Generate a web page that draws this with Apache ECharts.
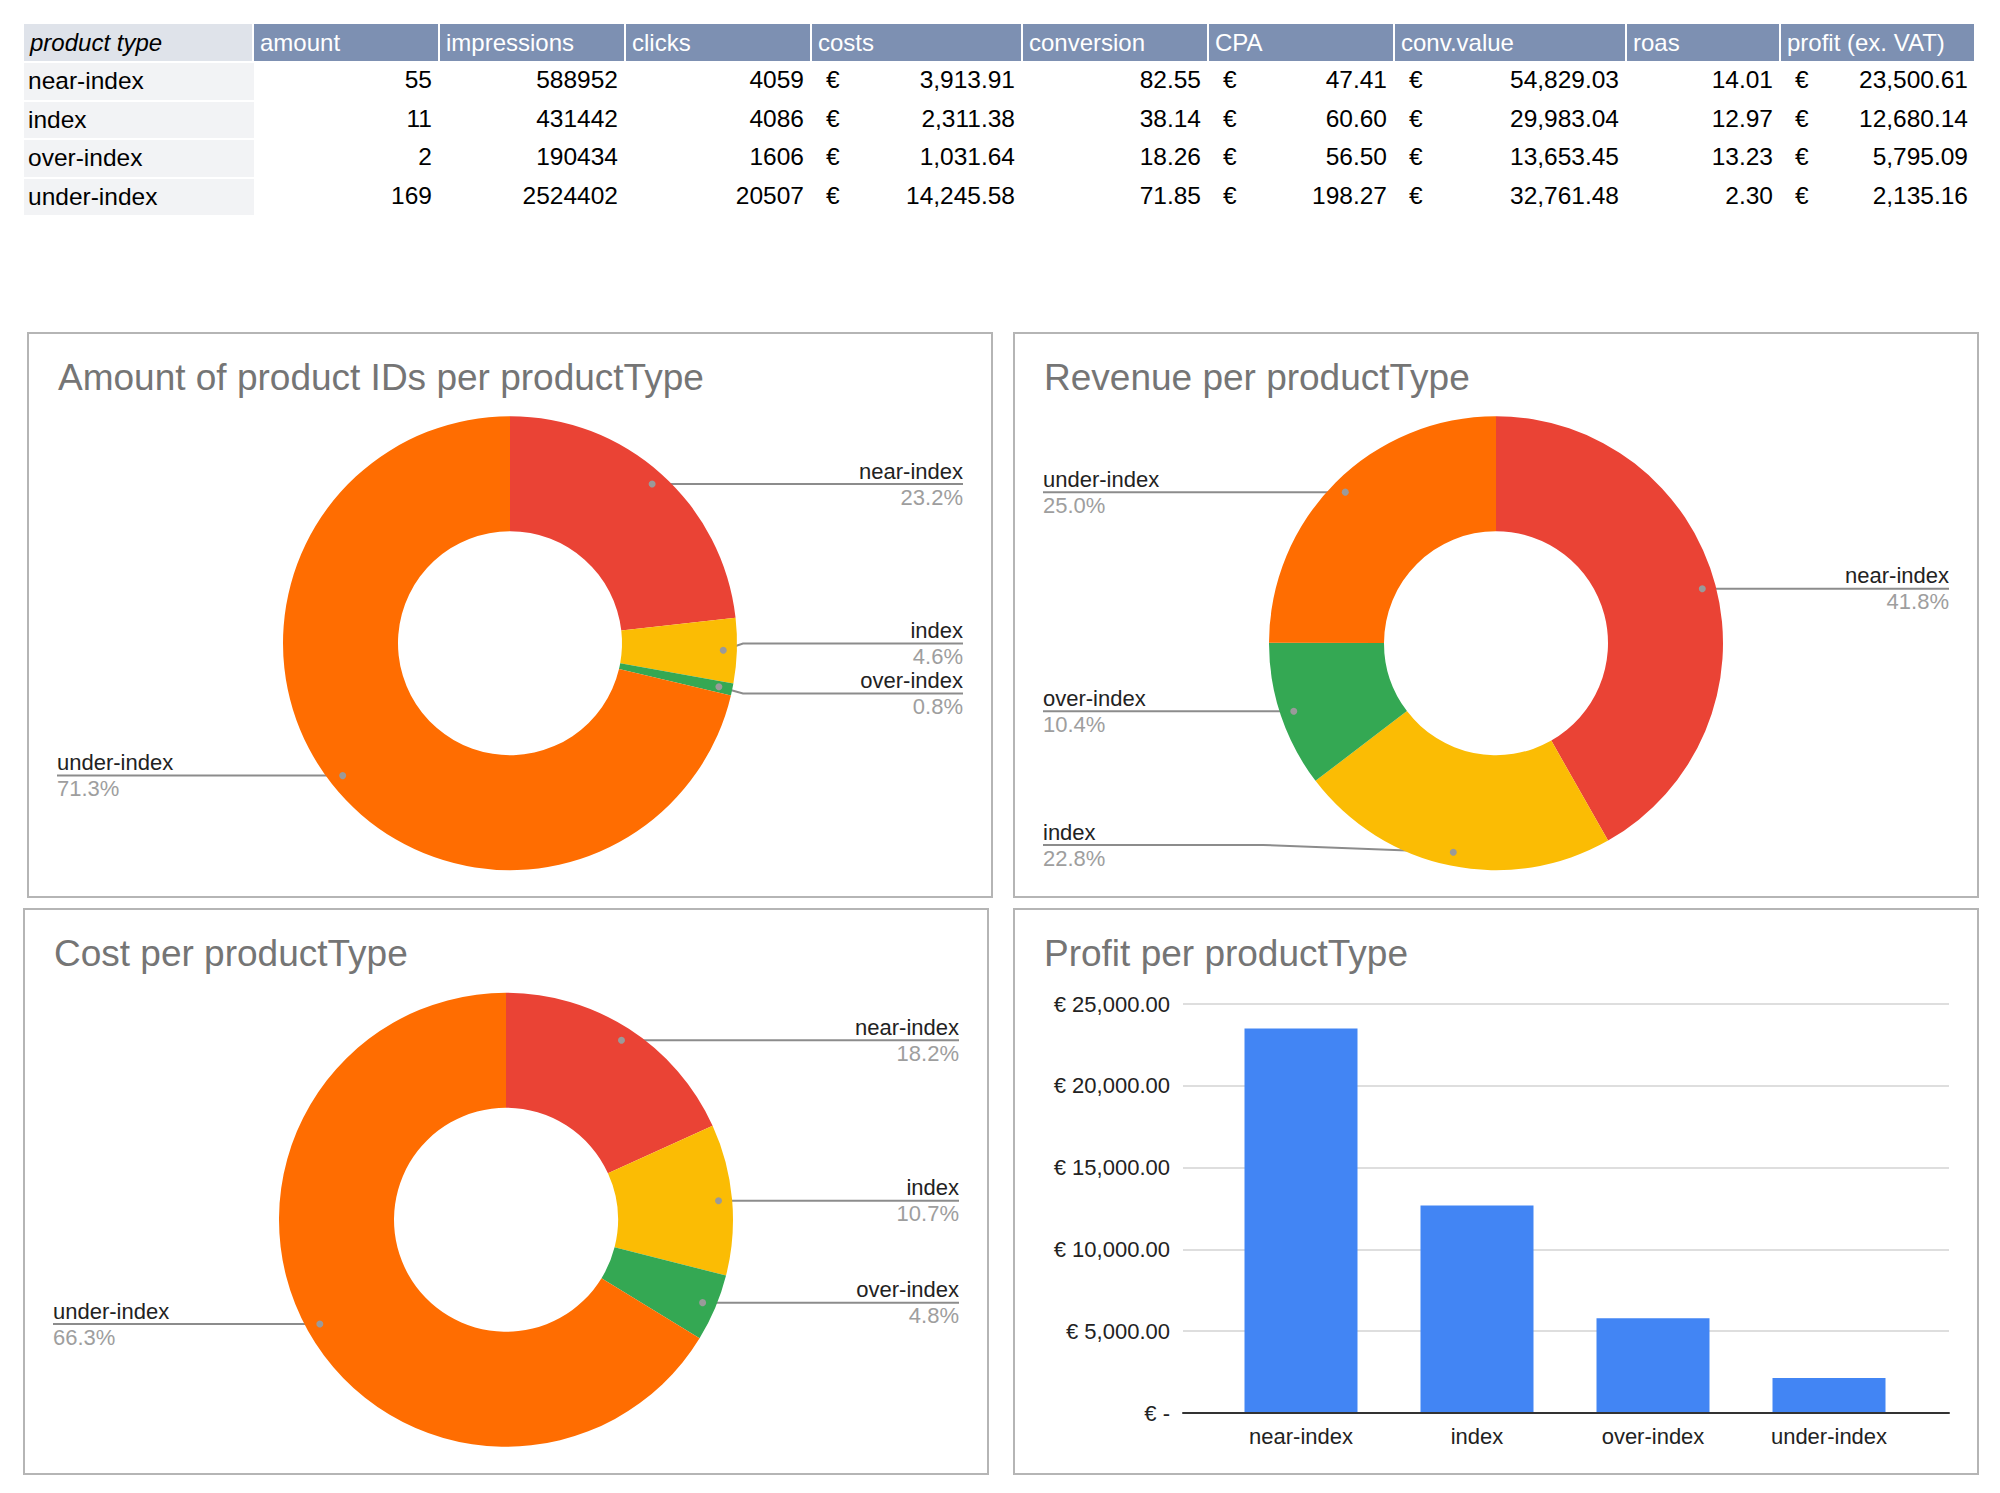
<!DOCTYPE html>
<html>
<head>
    <meta charset="utf-8" />
    <title>productType dashboard</title>
    <script src="https://cdn.jsdelivr.net/npm/echarts@6/dist/echarts.min.js"></script>
    <style>
        html, body { margin: 0; padding: 0; background: #fff; }
        #main { position: absolute; left: 0; top: 0; width: 2000px; height: 1493px; }
        #tbl { position: absolute; left: 24px; top: 24px; z-index: 2;
               border-collapse: separate; border-spacing: 0; table-layout: fixed;
               font-family: "Liberation Sans", Arial, sans-serif; font-size: 24.5px; color: #000; }
        #tbl tr.h { height: 37px; }
        #tbl tr.b { height: 38.5px; }
        #tbl th { padding: 0 6px; text-align: left; font-weight: normal; font-size: 24px;
                  background: #7d90b2; color: #fff; border-right: 2px solid #fff; white-space: nowrap; }
        #tbl th.first { background: #dfe3ea; color: #000; font-style: italic; }
        #tbl td { padding: 0 8px; text-align: right; white-space: nowrap; }
        #tbl td.first { text-align: left; background: #f2f3f5; border-top: 2px solid #fff; padding-left: 4px; }
        #tbl td.eur span.sym { float: left; padding-left: 6px; }
    </style>
</head>
<body>
    <div id="main"></div>
    <table id="tbl"></table>
    <script type="text/javascript">
        // data from the sheet
        var productTypes = ['near-index', 'index', 'over-index', 'under-index'];
        var amount = [55, 11, 2, 169];
        var impressions = [588952, 431442, 190434, 2524402];
        var clicks = [4059, 4086, 1606, 20507];
        var costs = [3913.91, 2311.38, 1031.64, 14245.58];
        var conversion = [82.55, 38.14, 18.26, 71.85];
        var cpa = [47.41, 60.60, 56.50, 198.27];
        var convValue = [54829.03, 29983.04, 13653.45, 32761.48];
        var roas = [14.01, 12.97, 13.23, 2.30];
        var profit = [23500.61, 12680.14, 5795.09, 2135.16];
        var tableHeaders = ['product type', 'amount', 'impressions', 'clicks', 'costs', 'conversion', 'CPA', 'conv.value', 'roas', 'profit (ex. VAT)'];
        var profitTicks = { min: 0, max: 25000, interval: 5000 };

        var typeColors = ['#ea4335', '#fbbc04', '#34a853', '#ff6d01'];
        var font = '"Liberation Sans", Arial, sans-serif';

        function money(v) {
            return v.toLocaleString('en-US', { minimumFractionDigits: 2, maximumFractionDigits: 2 });
        }

        // ---- table ----
        function buildTable() {
            var widths = [230, 186, 186, 186, 211, 186, 186, 232, 154, 195];
            var cols = [
                { vals: amount, fmt: function (v) { return String(v); } },
                { vals: impressions, fmt: function (v) { return String(v); } },
                { vals: clicks, fmt: function (v) { return String(v); } },
                { vals: costs, fmt: money, eur: true },
                { vals: conversion, fmt: function (v) { return v.toFixed(2); } },
                { vals: cpa, fmt: money, eur: true },
                { vals: convValue, fmt: money, eur: true },
                { vals: roas, fmt: function (v) { return v.toFixed(2); } },
                { vals: profit, fmt: money, eur: true }
            ];
            var html = '<colgroup>';
            widths.forEach(function (w) { html += '<col style="width:' + w + 'px">'; });
            html += '</colgroup><tr class="h">';
            tableHeaders.forEach(function (h, i) {
                html += '<th' + (i === 0 ? ' class="first"' : '') + '>' + h + '</th>';
            });
            html += '</tr>';
            productTypes.forEach(function (name, r) {
                html += '<tr class="b"><td class="first">' + name + '</td>';
                cols.forEach(function (c) {
                    var txt = c.fmt(c.vals[r]);
                    if (c.eur) {
                        html += '<td class="eur"><span class="sym">€</span>' + txt + '</td>';
                    } else {
                        html += '<td>' + txt + '</td>';
                    }
                });
                html += '</tr>';
            });
            document.getElementById('tbl').innerHTML = html;
        }
        buildTable();

        // ---- charts ----
        var panels = [
            { x: 28, y: 333, w: 964, h: 564, title: 'Amount of product IDs per productType' },
            { x: 1014, y: 333, w: 964, h: 564, title: 'Revenue per productType' },
            { x: 24, y: 909, w: 964, h: 565, title: 'Cost per productType' },
            { x: 1014, y: 909, w: 964, h: 565, title: 'Profit per productType' }
        ];
        var pieValues = [amount, convValue, costs];
        var centerPct = [0.5, 0.55];
        var outerR = 227, innerR = 112;
        var dotR = 0.94 * outerR;    // where the leader line starts
        var bendR = outerR + 6;      // where it turns horizontal
        var labelGap = 50;           // min distance between two labels on one side

        function pieCenter(i) {
            var p = panels[i];
            return [p.x + p.w * centerPct[0], p.y + p.h * centerPct[1]];
        }

        // leader line start points and label rows, Google-Sheets style
        function leaderLayout(i) {
            var vals = pieValues[i];
            var c = pieCenter(i);
            var p = panels[i];
            var total = vals.reduce(function (a, b) { return a + b; }, 0);
            var acc = 0;
            var dots = vals.map(function (v) {
                var a = (acc + v / 2) / total * Math.PI * 2;
                acc += v;
                return [c[0] + Math.sin(a) * dotR, c[1] - Math.cos(a) * dotR];
            });
            var ys = dots.map(function (d) { return d[1]; });
            var lo = p.y + 100, hi = p.y + p.h - 52;
            [true, false].forEach(function (left) {
                var idx = [];
                dots.forEach(function (d, k) { if ((d[0] < c[0]) === left) idx.push(k); });
                idx.sort(function (a, b) { return ys[a] - ys[b]; });
                for (var pass = 0; pass < 4; pass++) {
                    for (var k = 1; k < idx.length; k++) {
                        var a = idx[k - 1], b = idx[k];
                        if (ys[b] - ys[a] < labelGap) {
                            var mid = (ys[a] + ys[b]) / 2;
                            ys[a] = mid - labelGap / 2;
                            ys[b] = mid + labelGap / 2;
                        }
                    }
                    idx.forEach(function (k) { ys[k] = Math.min(hi, Math.max(lo, ys[k])); });
                }
            });
            return { center: c, dots: dots, ys: ys };
        }
        var leaders = pieValues.map(function (v, i) { return leaderLayout(i); });

        function makeLabelLayout(panelIdx) {
            return function (params) {
                var L = leaders[panelIdx];
                var k = params.dataIndex;
                var dot = L.dots[k];
                var y = L.ys[k];
                var r = params.labelRect;
                var isLeft = dot[0] < L.center[0];
                var bendX = L.center[0] + (isLeft ? -bendR : bendR);
                var far = isLeft ? r.x : r.x + r.width;
                return {
                    y: y,
                    verticalAlign: 'middle',
                    labelLinePoints: [dot, [bendX, y], [far, y]]
                };
            };
        }

        var myChart = echarts.init(document.getElementById('main'), null, { renderer: 'svg' });

        var series = [];
        pieValues.forEach(function (vals, i) {
            var p = panels[i];
            series.push({
                type: 'pie',
                left: p.x, top: p.y, width: p.w, height: p.h,
                center: [(centerPct[0] * 100) + '%', (centerPct[1] * 100) + '%'],
                radius: [innerR, outerR],
                startAngle: 90,
                clockwise: true,
                percentPrecision: 4,
                avoidLabelOverlap: true,
                silent: true,
                emphasis: { disabled: true },
                itemStyle: { borderWidth: 0 },
                data: productTypes.map(function (n, k) {
                    return { name: n, value: vals[k], itemStyle: { color: typeColors[k] } };
                }),
                label: {
                    show: true,
                    position: 'outside',
                    alignTo: 'edge',
                    edgeDistance: 29,
                    formatter: function (pr) {
                        return '{n|' + pr.name + '}\n{p|' + pr.percent.toFixed(1) + '%}';
                    },
                    rich: {
                        n: { fontSize: 22, color: '#222', lineHeight: 26, fontFamily: font },
                        p: { fontSize: 22, color: '#9e9e9e', lineHeight: 26, fontFamily: font }
                    }
                },
                labelLine: { show: true, length: 2, length2: 2, lineStyle: { color: '#8c8c8c', width: 2 } },
                labelLayout: makeLabelLayout(i)
            });
        });

        series.push({
            type: 'bar',
            name: 'profit',
            data: profit,
            xAxisIndex: 1,
            yAxisIndex: 1,
            barWidth: 113,
            silent: true,
            itemStyle: { color: '#4285f4' }
        });

        // small dots where the leader lines start
        var dotGraphics = [];
        leaders.forEach(function (L) {
            L.dots.forEach(function (d) {
                dotGraphics.push({
                    type: 'circle', shape: { cx: d[0], cy: d[1], r: 3.5 },
                    style: { fill: '#9a9a9a' }, z: 100, silent: true
                });
            });
        });

        var gridTop = 1004, gridBottom = 1493 - 1413;
        myChart.setOption({
            backgroundColor: '#fff',
            animation: false,
            textStyle: { fontFamily: font },
            title: panels.map(function (p) {
                return {
                    text: p.title,
                    left: p.x + 25,
                    top: p.y + 21,
                    textStyle: { fontSize: 37, fontWeight: 'normal', color: '#757575', fontFamily: font }
                };
            }),
            graphic: panels.map(function (p) {
                return {
                    type: 'rect',
                    shape: { x: p.x, y: p.y, width: p.w, height: p.h },
                    style: { fill: 'none', stroke: '#b5b5b5', lineWidth: 2 },
                    silent: true
                };
            }).concat(dotGraphics),
            grid: [
                // wide grid: gridlines, y labels and the base line
                { left: 1183, right: 2000 - 1949, top: gridTop, bottom: gridBottom },
                // inner grid: the category bands for the bars
                { left: 1213, right: 2000 - 1917, top: gridTop, bottom: gridBottom }
            ],
            xAxis: [
                {
                    gridIndex: 0, type: 'value', min: 0, max: 1, z: 5,
                    axisLine: { show: true, lineStyle: { color: '#333', width: 2 } },
                    axisTick: { show: false }, axisLabel: { show: false }, splitLine: { show: false }
                },
                {
                    gridIndex: 1, type: 'category', data: productTypes,
                    axisLine: { show: false },
                    axisTick: { show: false },
                    axisLabel: { color: '#222', fontSize: 22, margin: 12, fontFamily: font }
                }
            ],
            yAxis: [
                {
                    gridIndex: 0, type: 'value',
                    min: profitTicks.min, max: profitTicks.max, interval: profitTicks.interval,
                    axisLine: { show: false },
                    axisTick: { show: false },
                    splitLine: { lineStyle: { color: '#dedede', width: 2 } },
                    axisLabel: {
                        color: '#222', fontSize: 22, margin: 13, fontFamily: font,
                        formatter: function (v) { return v === 0 ? '€ -' : '€ ' + money(v); }
                    }
                },
                {
                    gridIndex: 1, type: 'value',
                    min: profitTicks.min, max: profitTicks.max, interval: profitTicks.interval,
                    show: false, splitLine: { show: false }
                }
            ],
            series: series
        });
    </script>
</body>
</html>
